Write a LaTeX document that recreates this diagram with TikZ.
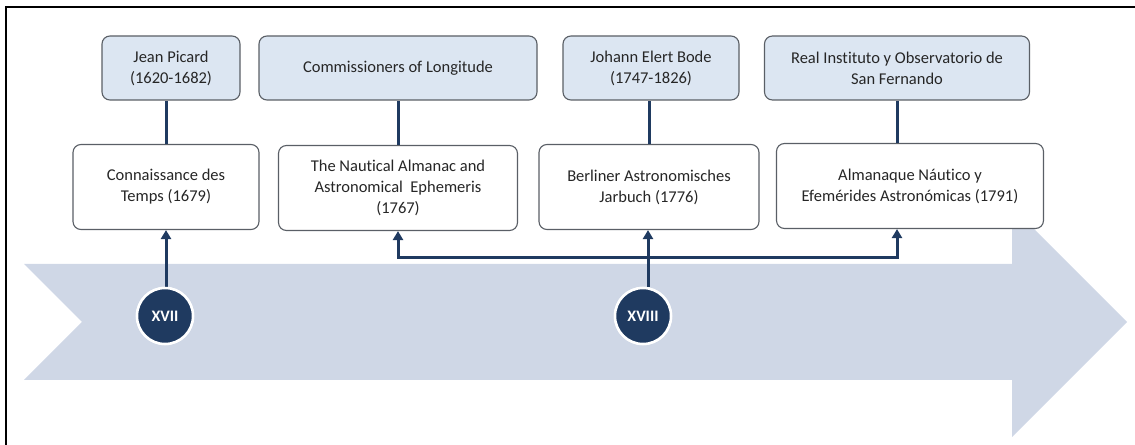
\documentclass[tikz,border=0pt]{standalone}
\usepackage{fontspec}
\setmainfont{Carlito}[Ligatures=NoCommon]
\usetikzlibrary{arrows.meta}
\definecolor{navy}{HTML}{1F3A60}
\definecolor{band}{HTML}{CFD7E6}
\definecolor{topfill}{HTML}{DCE6F2}
\definecolor{edge}{HTML}{5A5F66}
\definecolor{txt}{HTML}{262626}
\tikzset{
  box/.style={draw=edge, line width=1.1bp, rounded corners=8bp, align=center,
    font=\fontsize{16.5bp}{21bp}\selectfont, text=txt, inner sep=0pt},
  topbox/.style={box, fill=topfill, minimum height=64bp},
  pubbox/.style={box, fill=white, minimum height=85bp},
  century/.style={circle, fill=navy, draw=white, line width=2.5bp, minimum size=56bp,
    inner sep=0pt, text=white, font=\fontsize{16bp}{18bp}\selectfont\bfseries},
  link/.style={draw=navy, line width=3bp},
  arr/.style={link, -{Triangle[width=10bp,length=9bp]}},
}
\begin{document}
\begin{tikzpicture}[x=1bp,y=-1bp]
\useasboundingbox (0,0) rectangle (1135,445);
% frame
\draw[line width=1.5bp, black] (6,445) -- (6,7) -- (1135,7);
% timeline band arrow
\fill[band] (24,264) -- (1012,264) -- (1012,207) -- (1127,322) -- (1012,437)
  -- (1012,380) -- (24,380) -- (82,322) -- cycle;
% top boxes
\node[topbox, minimum width=138bp] (jp) at (171,68) {Jean Picard\\(1620-1682)};
\node[topbox, minimum width=278bp] (com) at (398,68) {Commissioners\ of Longitude};
\node[topbox, minimum width=176bp] (jb) at (651,68) {Johann Elert Bode\\(1747-1826)};
\node[topbox, minimum width=265bp] (ri) at (897,68) {Real Instituto y Observatorio\ de\\San Fernando};
% publication boxes
\node[pubbox, minimum width=186bp] (ct) at (166,187) {Connaissance des\\Temps (1679)};
\node[pubbox, minimum width=239bp] (na) at (398,188) {The Nautical Almanac and\\Astronomical\ \ Ephemeris\\(1767)};
\node[pubbox, minimum width=220bp] (ba) at (649,187) {Berliner\ Astronomisches\\Jarbuch (1776)};
\node[pubbox, minimum width=267bp] (an) at (910,186) {Almanaque\ Náutico y\\Efemérides\ Astronómicas (1791)};
% vertical links
\draw[link] (ct.north) -- (ct.north |- jp.south);
\draw[link] (na.north) -- (na.north |- com.south);
\draw[link] (ba.north) -- (ba.north |- jb.south);
\draw[link] (ri.south) -- (ri.south |- an.north);
% century markers (placed first, redrawn over the arrow starts)
\node[century] (c1) at (165,316) {XVII};
\node[century] (c2) at (643,316) {XVIII};
\coordinate (j) at (648,258);
% arrows
\draw[arr] (c1.north -| ct.south) -- (ct.south);
\draw[arr] (c2.north -| j) -- (j |- ba.south);
\draw[arr] (j) -| (na.south);
\draw[arr] (j) -| (ri.south |- an.south);
\node[century] at (c1) {XVII};
\node[century] at (c2) {XVIII};
\end{tikzpicture}
\end{document}
